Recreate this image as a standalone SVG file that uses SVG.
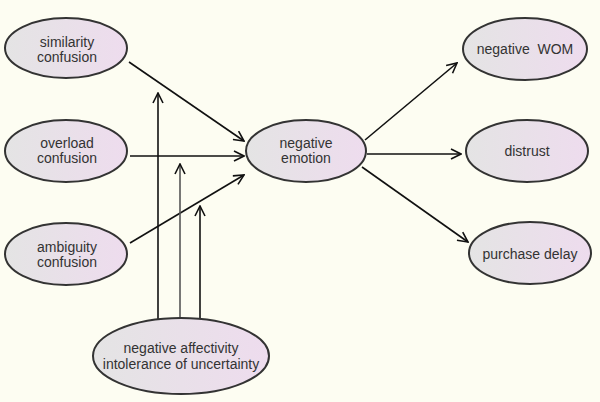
<svg xmlns="http://www.w3.org/2000/svg" width="600" height="402" viewBox="0 0 600 402">
<style>
.node ellipse{fill:url(#g);stroke:#333;stroke-width:2}
.node text{font-family:"Liberation Sans",Arial,sans-serif;font-size:14px;fill:#333;text-anchor:middle}
.edge{stroke:#111;stroke-width:1.6;fill:none;marker-end:url(#a)}
</style>
<defs>
<linearGradient id="g" x1="0" y1="0" x2="1" y2="0">
<stop offset="0" stop-color="#e4e4e4"/>
<stop offset="1" stop-color="#eedcee"/>
</linearGradient>
<marker id="a" viewBox="0 0 12 12" refX="11" refY="6" markerWidth="12" markerHeight="12" markerUnits="userSpaceOnUse" orient="auto">
<path d="M1,1 L11,6 L1,11" fill="none" stroke="#111" stroke-width="1.6"/>
</marker>
</defs>
<rect width="600" height="402" fill="#fdfdf2"/>
<g id="connectors">
<line class="edge" x1="129" y1="62" x2="244" y2="141"/>
<line class="edge" x1="130" y1="156" x2="244" y2="156"/>
<line class="edge" x1="130" y1="243" x2="244" y2="175"/>
<line class="edge" x1="365" y1="140" x2="457" y2="63"/>
<line class="edge" x1="367" y1="154" x2="461" y2="154"/>
<line class="edge" x1="362" y1="167" x2="468" y2="242"/>
<line class="edge" x1="158" y1="319" x2="158" y2="93"/>
<line class="edge" x1="180" y1="319" x2="180" y2="164" style="stroke:#555"/>
<line class="edge" x1="200" y1="321" x2="200" y2="206"/>
</g>
<g id="similarity" class="node"><ellipse cx="66" cy="48" rx="61" ry="30"/><text x="67" y="47">similarity</text><text x="67" y="62">confusion</text></g>
<g id="overload" class="node"><ellipse cx="66" cy="151" rx="61" ry="31"/><text x="67" y="148">overload</text><text x="67" y="163">confusion</text></g>
<g id="ambiguity" class="node"><ellipse cx="66" cy="254" rx="61" ry="31"/><text x="67" y="252">ambiguity</text><text x="67" y="267">confusion</text></g>
<g id="emotion" class="node"><ellipse cx="306" cy="151" rx="60" ry="31"/><text x="306" y="148">negative</text><text x="306" y="163">emotion</text></g>
<g id="wom" class="node"><ellipse cx="525" cy="49" rx="62" ry="31"/><text x="525" y="54" xml:space="preserve">negative  WOM</text></g>
<g id="distrust" class="node"><ellipse cx="527" cy="151" rx="61" ry="31"/><text x="527" y="156">distrust</text></g>
<g id="delay" class="node"><ellipse cx="530" cy="253" rx="61" ry="31"/><text x="530" y="259">purchase delay</text></g>
<g id="affectivity" class="node"><ellipse cx="181" cy="356" rx="88" ry="38"/><text x="181" y="353">negative affectivity</text><text x="181" y="369">intolerance of uncertainty</text></g>
</svg>
